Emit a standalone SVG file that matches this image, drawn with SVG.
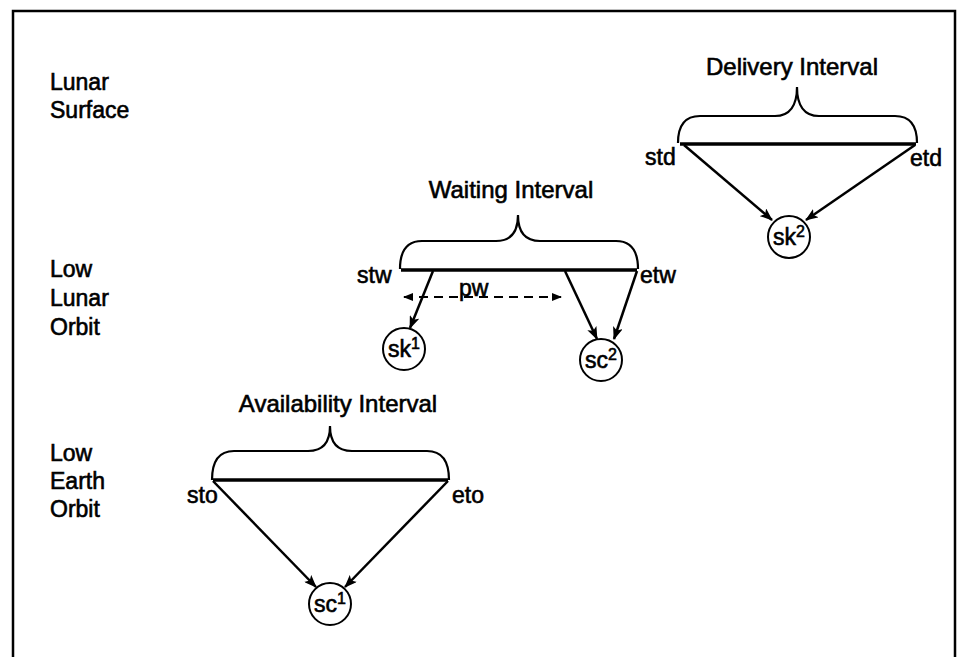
<svg xmlns="http://www.w3.org/2000/svg" width="961" height="657" viewBox="0 0 961 657">
  <defs>
    <style>
      text { font-family: "Liberation Sans", Arial, sans-serif; fill: #000; stroke: #000; stroke-width: 0.6; }
      .lvl { font-size: 23px; }
      .title { font-size: 24px; text-anchor: middle; }
      .end { font-size: 23px; }
      .node { font-size: 23px; text-anchor: middle; }
      .sup { font-size: 16px; }
      .brace { fill: none; stroke: #000; stroke-width: 2.2; }
      .span { fill: none; stroke: #000; stroke-width: 3.5; }
      .arrow { fill: none; stroke: #000; stroke-width: 2.5; marker-end: url(#head); }
      .dash { fill: none; stroke: #000; stroke-width: 2.2; stroke-dasharray: 9 6; }
      circle { fill: #fff; stroke: #000; stroke-width: 2; }
    </style>
    <marker id="head" viewBox="0 0 13 10" refX="12" refY="5" markerWidth="13" markerHeight="10" markerUnits="userSpaceOnUse" orient="auto">
      <path d="M0,0 L13,5 L0,10 L3,5 Z" fill="#000"/>
    </marker>
    <marker id="dhead" viewBox="0 0 10 8" refX="9" refY="4" markerWidth="10" markerHeight="8" markerUnits="userSpaceOnUse" orient="auto-start-reverse">
      <path d="M0,0 L10,4 L0,8 Z" fill="#000"/>
    </marker>
  </defs>

  <rect width="961" height="657" fill="#fff"/>

  <!-- frame: open at the bottom -->
  <path d="M13,657 L13,11 L955,11 L955,657" fill="none" stroke="#000" stroke-width="2.5"/>

  <!-- level labels -->
  <g id="levels">
    <text class="lvl" x="50" y="90">Lunar</text>
    <text class="lvl" x="50" y="118">Surface</text>
    <text class="lvl" x="50" y="277">Low</text>
    <text class="lvl" x="50" y="306">Lunar</text>
    <text class="lvl" x="50" y="335">Orbit</text>
    <text class="lvl" x="50" y="461">Low</text>
    <text class="lvl" x="50" y="489">Earth</text>
    <text class="lvl" x="50" y="517">Orbit</text>
  </g>

  <!-- delivery interval on the lunar surface -->
  <g id="delivery">
    <text class="title" x="792" y="75">Delivery Interval</text>
    <path class="brace" d="M678,143 C678,125 685,116 700,116 L775,116 C790,116 797,105 797,87 C797,105 804,116 819,116 L895,116 C910,116 917,125 917,143"/>
    <line class="span" x1="680" y1="144" x2="916" y2="144"/>
    <text class="end" x="645" y="165">std</text>
    <text class="end" x="910" y="166">etd</text>
  </g>

  <!-- waiting interval in low lunar orbit -->
  <g id="waiting">
    <text class="title" x="511" y="198">Waiting Interval</text>
    <path class="brace" d="M400,269 C400,250 407,241 422,241 L496,241 C511,241 518,232 518,215 C518,232 525,241 540,241 L616,241 C631,241 638,250 638,269"/>
    <line class="span" x1="401" y1="270" x2="637" y2="270"/>
    <text class="end" x="357" y="283">stw</text>
    <text class="end" x="640" y="283">etw</text>
  </g>

  <!-- availability interval in low earth orbit -->
  <g id="availability">
    <text class="title" x="338" y="412">Availability Interval</text>
    <path class="brace" d="M212,480 C212,461 219,451 234,451 L308,451 C323,451 330,442 330,426 C330,442 337,451 352,451 L427,451 C442,451 449,461 449,480"/>
    <line class="span" x1="213" y1="480" x2="448" y2="480"/>
    <text class="end" x="187" y="503">sto</text>
    <text class="end" x="452" y="503">eto</text>
  </g>

  <!-- nodes -->
  <g id="sk2">
    <circle cx="789" cy="237" r="21"/>
    <text class="node" x="789" y="245">sk<tspan class="sup" dy="-8">2</tspan></text>
  </g>
  <g id="sk1">
    <circle cx="404" cy="349" r="21"/>
    <text class="node" x="404" y="357">sk<tspan class="sup" dy="-8">1</tspan></text>
  </g>
  <g id="sc2">
    <circle cx="601" cy="360" r="21"/>
    <text class="node" x="601" y="368">sc<tspan class="sup" dy="-8">2</tspan></text>
  </g>
  <g id="sc1">
    <circle cx="330" cy="604" r="21"/>
    <text class="node" x="330" y="612">sc<tspan class="sup" dy="-8">1</tspan></text>
  </g>

  <!-- connectors -->
  <g id="connectors">
    <line class="arrow" x1="684" y1="145" x2="772" y2="220"/>
    <line class="arrow" x1="915" y1="145" x2="806" y2="220"/>
    <line class="arrow" x1="433" y1="271" x2="410" y2="328"/>
    <line class="arrow" x1="565" y1="271" x2="597" y2="339"/>
    <line class="arrow" x1="637" y1="271" x2="614" y2="339"/>
    <line class="arrow" x1="213" y1="481" x2="316" y2="587"/>
    <line class="arrow" x1="448" y1="481" x2="345" y2="587"/>
    <line class="dash" x1="404" y1="297" x2="561" y2="297" marker-start="url(#dhead)" marker-end="url(#dhead)"/>
    <text class="end" x="459" y="296">pw</text>
  </g>
</svg>
